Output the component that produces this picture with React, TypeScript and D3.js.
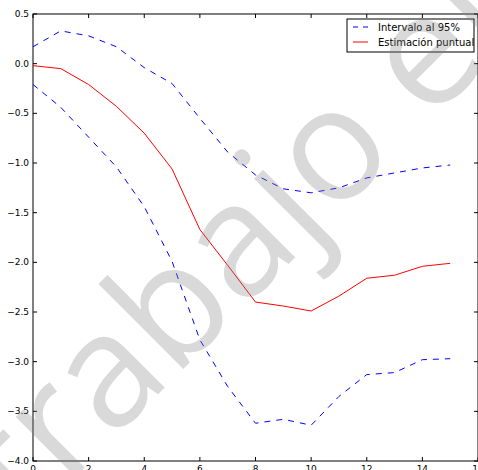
import React, { useEffect, useRef } from 'react';
import * as d3 from 'd3';

// horizonte (periodos)
const periods = d3.range(0, 16);
// Estimación puntual
const pointEstimate = [-0.02, -0.05, -0.21, -0.43, -0.70, -1.06, -1.67, -2.03, -2.40, -2.44, -2.49, -2.34, -2.16, -2.13, -2.04, -2.01];
// Intervalo al 95%
const upperBand = [0.17, 0.33, 0.28, 0.17, -0.04, -0.20, -0.55, -0.89, -1.12, -1.26, -1.30, -1.25, -1.15, -1.10, -1.05, -1.02];
const lowerBand = [-0.21, -0.44, -0.74, -1.04, -1.44, -1.99, -2.78, -3.25, -3.62, -3.58, -3.64, -3.35, -3.13, -3.11, -2.98, -2.97];

const xTicks = [0, 2, 4, 6, 8, 10, 12, 14, 16];
const yTicks = [0.5, 0.0, -0.5, -1.0, -1.5, -2.0, -2.5, -3.0, -3.5, -4.0];
const legendLabels = ['Intervalo al 95%', 'Estimación puntual'];
const watermark = 'trabajo el';

const App = () => {
  const chartRef = useRef<SVGSVGElement>(null);

  useEffect(() => {
    const width = 478;
    const height = 470;
    const margin = { top: 14, right: 0, bottom: 9, left: 33 };

    const svg = d3.select(chartRef.current);
    svg.selectAll('*').remove();

    const x = d3.scaleLinear().domain([0, 16]).range([margin.left, width - margin.right]);
    const y = d3.scaleLinear().domain([-4, 0.5]).range([height - margin.bottom, margin.top]);

    const fmt = (d: number) => d.toFixed(1).replace('-', '\u2212');

    // spines
    svg.append('rect')
      .attr('x', x(0)).attr('y', y(0.5))
      .attr('width', x(16) - x(0)).attr('height', y(-4) - y(0.5))
      .attr('fill', 'none').attr('stroke', '#000').attr('stroke-width', 1);

    // ticks (inward, both sides)
    const tl = 4;
    const ticks = svg.append('g').attr('stroke', '#000').attr('stroke-width', 1);
    xTicks.forEach(t => {
      ticks.append('line').attr('x1', x(t)).attr('x2', x(t)).attr('y1', y(-4)).attr('y2', y(-4) - tl);
      ticks.append('line').attr('x1', x(t)).attr('x2', x(t)).attr('y1', y(0.5)).attr('y2', y(0.5) + tl);
    });
    yTicks.forEach(t => {
      ticks.append('line').attr('x1', x(0)).attr('x2', x(0) + tl).attr('y1', y(t)).attr('y2', y(t));
      ticks.append('line').attr('x1', x(16)).attr('x2', x(16) - tl).attr('y1', y(t)).attr('y2', y(t));
    });

    // tick labels
    const labels = svg.append('g').attr('font-family', 'DejaVu Sans').attr('font-size', 9).attr('fill', '#000');
    yTicks.forEach(t => {
      labels.append('text').attr('x', x(0) - 4).attr('y', y(t)).attr('dy', '0.35em')
        .attr('text-anchor', 'end').text(fmt(t));
    });
    xTicks.forEach(t => {
      labels.append('text').attr('x', x(t)).attr('y', y(-4) + 4).attr('dy', '0.75em')
        .attr('text-anchor', 'middle').text(String(t));
    });

    // lines
    const line = d3.line<number>().x((_, i) => x(periods[i])).y(d => y(d));
    svg.append('path').datum(upperBand).attr('d', line)
      .attr('fill', 'none').attr('stroke', 'blue').attr('stroke-width', 1).attr('stroke-dasharray', '6,6');
    svg.append('path').datum(lowerBand).attr('d', line)
      .attr('fill', 'none').attr('stroke', 'blue').attr('stroke-width', 1).attr('stroke-dasharray', '6,6');
    svg.append('path').datum(pointEstimate).attr('d', line)
      .attr('fill', 'none').attr('stroke', 'red').attr('stroke-width', 1);

    // legend
    const lg = svg.append('g').attr('transform', 'translate(347,19)');
    lg.append('rect').attr('width', 127).attr('height', 33)
      .attr('fill', '#fff').attr('stroke', '#000').attr('stroke-width', 1);
    const styles = [
      { color: 'blue', dash: '5,5' },
      { color: 'red', dash: null },
    ];
    legendLabels.forEach((lab, i) => {
      const yy = 8 + i * 15;
      lg.append('line').attr('x1', 6).attr('x2', 21).attr('y1', yy).attr('y2', yy)
        .attr('stroke', styles[i].color).attr('stroke-width', 1)
        .attr('stroke-dasharray', styles[i].dash);
      lg.append('text').attr('x', 31).attr('y', yy).attr('dy', '0.35em')
        .attr('font-family', 'DejaVu Sans').attr('font-size', 10).text(lab);
    });

    // watermark (sits over the chart, semi-transparent)
    const F = 158;
    const wm = svg.append('g').attr('transform', 'translate(336,156) rotate(-45)');
    const wt = wm.append('text')
      .attr('font-family', 'Open Sans').attr('font-size', F)
      .attr('fill', '#808080').attr('fill-opacity', 0.3)
      .attr('y', 0.27 * F)
      .text('trabajo');
    const node = wt.node() as SVGTextElement;
    const L = node.getComputedTextLength();
    wt.attr('x', 0.3 * F - L).attr('xml:space', 'preserve').text(watermark);
  }, []);

  return (
    <svg
      ref={chartRef}
      width={478}
      height={470}
      style={{ position: 'absolute', left: 0, top: 0, background: '#fff' }}
    />
  );
};

export default App;
